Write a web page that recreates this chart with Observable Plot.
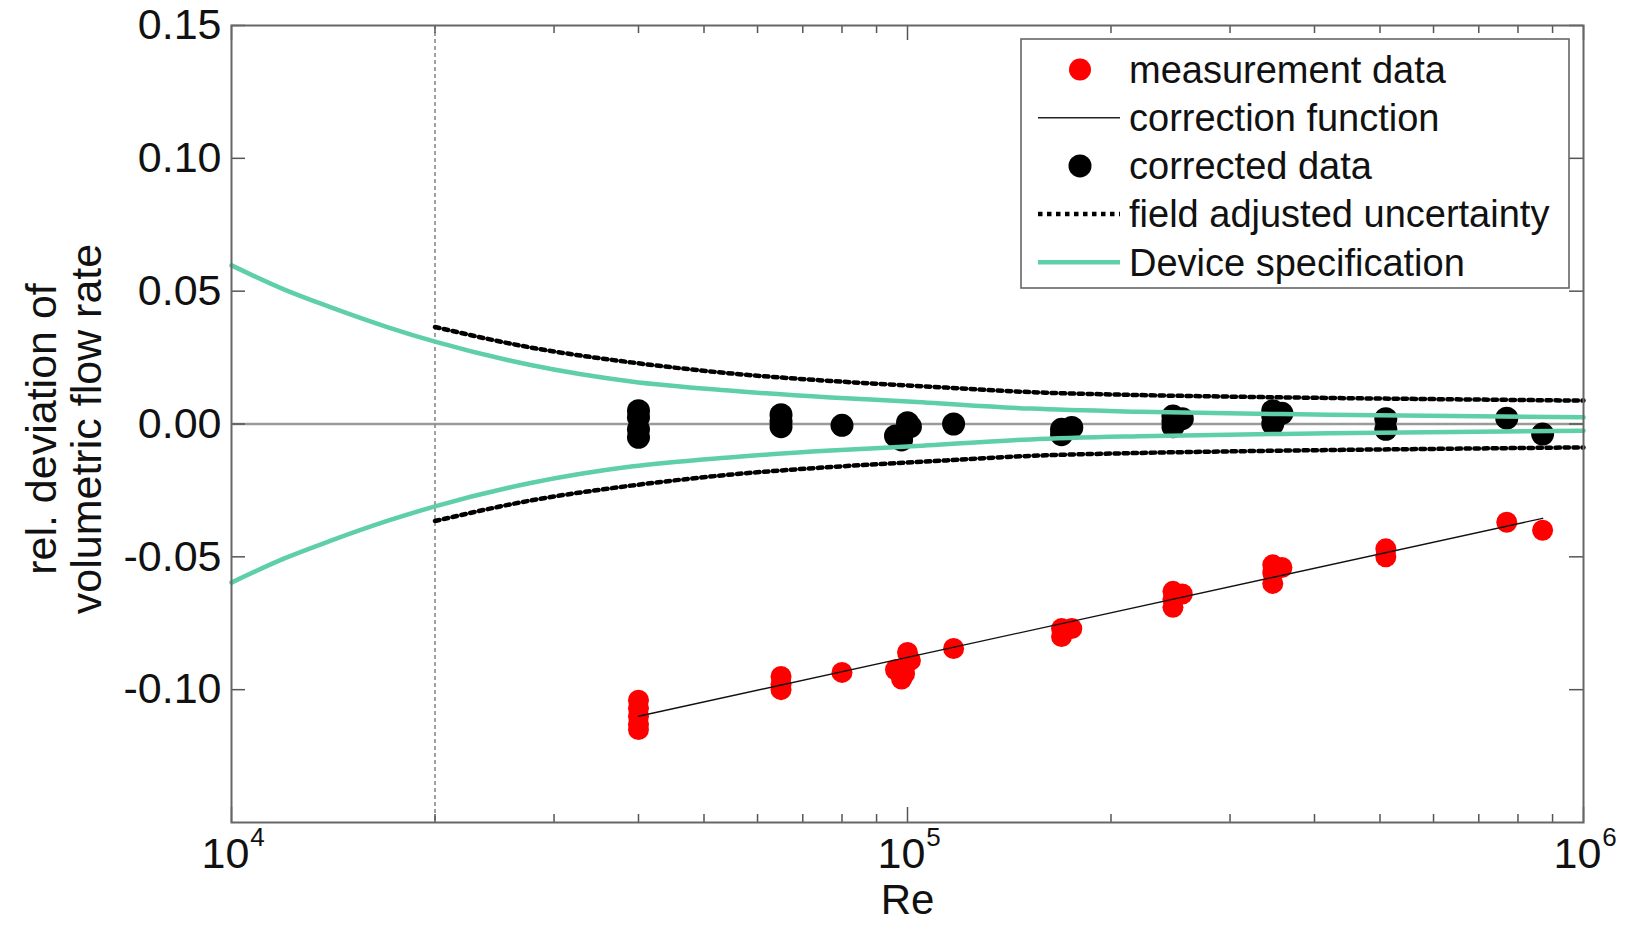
<!DOCTYPE html>
<html>
<head>
<meta charset="utf-8">
<script src="https://cdn.jsdelivr.net/npm/d3@7"></script>
<script src="https://cdn.jsdelivr.net/npm/@observablehq/plot@0.6"></script>
<style>
  html, body { margin: 0; padding: 0; background: #fff; }
  #chart { width: 1626px; height: 937px; }
</style>
</head>
<body>
<div id="chart"></div>
<script>
// ---------- data ----------
const measurementRe  = [4.0e4, 4.0e4, 4.0e4, 4.0e4, 4.0e4, 6.5e4, 6.5e4, 6.5e4, 8.0e4, 9.6e4, 9.8e4, 9.9e4, 1.0e5, 1.01e5, 1.17e5, 1.69e5, 1.69e5, 1.75e5, 2.47e5, 2.47e5, 2.47e5, 2.55e5, 3.47e5, 3.47e5, 3.47e5, 3.58e5, 5.1e5, 5.1e5, 7.7e5, 8.7e5];
const measurementDev = [-0.104, -0.107, -0.110, -0.113, -0.115, -0.095, -0.098, -0.100, -0.0935, -0.0925, -0.096, -0.094, -0.086, -0.089, -0.0845, -0.077, -0.080, -0.077, -0.063, -0.066, -0.069, -0.064, -0.053, -0.056, -0.060, -0.054, -0.047, -0.050, -0.037, -0.040];

const correctedRe  = [4.0e4, 4.0e4, 4.0e4, 4.0e4, 6.5e4, 6.5e4, 6.5e4, 8.0e4, 9.6e4, 9.8e4, 1.0e5, 1.01e5, 1.17e5, 1.69e5, 1.69e5, 1.75e5, 2.47e5, 2.47e5, 2.47e5, 2.55e5, 3.47e5, 3.47e5, 3.47e5, 3.58e5, 5.1e5, 5.1e5, 7.7e5, 8.7e5];
const correctedDev = [0.005, 0.0025, -0.002, -0.005, 0.0035, 0.001, -0.001, -0.0005, -0.0045, -0.006, 0.0005, -0.001, 0.0, -0.004, -0.002, -0.0013, 0.003, 0.001, -0.001, 0.002, 0.005, 0.003, 0.0, 0.004, 0.002, -0.002, 0.0022, -0.0038];

const correctionRe  = [4.0e4, 8.7e5];
const correctionDev = [-0.110, -0.0355];

const specRe       = [1e4, 1.2e4, 1.4e4, 1.7e4, 2e4, 2.77e4, 3.9e4, 5.5e4, 7.7e4, 1e5, 1.52e5, 2.2e5, 4.2e5, 1e6];
const specUpper    = [0.0597, 0.0505, 0.0440, 0.0365, 0.0310, 0.0222, 0.0160, 0.0125, 0.0100, 0.0085, 0.0058, 0.0046, 0.0035, 0.0025];
const specLower    = [-0.0597, -0.0505, -0.0440, -0.0365, -0.0310, -0.0222, -0.0160, -0.0125, -0.0100, -0.0085, -0.0058, -0.0046, -0.0035, -0.0025];

const fieldRe      = [2e4, 2.77e4, 3.9e4, 5.5e4, 7.7e4, 1.09e5, 1.52e5, 2.2e5, 3.2e5, 4.2e5, 6.4e5, 1e6];
const fieldUpper   = [0.0365, 0.0288, 0.0232, 0.0190, 0.0162, 0.0140, 0.0120, 0.0109, 0.0102, 0.0098, 0.0093, 0.0088];
const fieldLower   = [-0.0365, -0.0288, -0.0232, -0.0190, -0.0162, -0.0140, -0.0120, -0.0109, -0.0102, -0.0098, -0.0093, -0.0088];

const validityRe = [2e4];

const yTickValues  = [-0.10, -0.05, 0.00, 0.05, 0.10, 0.15];
const xMajorTicks  = [1e4, 1e5, 1e6];
const xMinorTicks  = [2e4, 3e4, 4e4, 5e4, 6e4, 7e4, 8e4, 9e4, 2e5, 3e5, 4e5, 5e5, 6e5, 7e5, 8e5, 9e5];

const legendLabels = ["measurement data", "correction function", "corrected data", "field adjusted uncertainty", "Device specification"];

// ---------- build tables ----------
const zip = (xs, ys) => xs.map((x, i) => ({x, y: ys[i]}));
const measurement = zip(measurementRe, measurementDev);
const corrected   = zip(correctedRe, correctedDev);
const correction  = zip(correctionRe, correctionDev);
const specU = zip(specRe, specUpper), specL = zip(specRe, specLower);
const fieldU = zip(fieldRe, fieldUpper), fieldL = zip(fieldRe, fieldLower);

// ---------- layout ----------
const W = 1626, H = 937, ML = 231, MR = 43, MT = 25, MB = 115;
const PW = W - ML - MR, PH = H - MT - MB;
const FONT = "'Liberation Sans', Arial, Helvetica, sans-serif";
const TEAL = "#5ecfa7";
const TICK = "#555";
const DASH = "4.5,4.5";

const plot = Plot.plot({
  width: W, height: H,
  marginLeft: ML, marginRight: MR, marginTop: MT, marginBottom: MB,
  style: {fontFamily: FONT, background: "#fff", color: "#111"},
  x: {type: "log", domain: [1e4, 1e6], axis: null},
  y: {domain: [-0.15, 0.15], axis: null},
  marks: [
    Plot.ruleY([0], {stroke: "#9a9a9a", strokeWidth: 2.5}),
    Plot.ruleX(validityRe, {x: d => d, stroke: "#8a8a8a", strokeWidth: 1.6, strokeDasharray: "4,3"}),
    Plot.dot(measurement, {x: "x", y: "y", r: 10.5, fill: "#ff0000", stroke: "none"}),
    Plot.line(correction, {x: "x", y: "y", stroke: "#111", strokeWidth: 1.4}),
    Plot.dot(corrected, {x: "x", y: "y", r: 11.5, fill: "#000", stroke: "none"}),
    Plot.line(specU, {x: "x", y: "y", stroke: TEAL, strokeWidth: 4.5, curve: "monotone-x"}),
    Plot.line(specL, {x: "x", y: "y", stroke: TEAL, strokeWidth: 4.5, curve: "monotone-x"}),
    Plot.line(fieldU, {x: "x", y: "y", stroke: "#000", strokeWidth: 4.5, strokeDasharray: DASH, curve: "monotone-x"}),
    Plot.line(fieldL, {x: "x", y: "y", stroke: "#000", strokeWidth: 4.5, strokeDasharray: DASH, curve: "monotone-x"}),
    // ticks (inward)
    Plot.ruleY(yTickValues, {y: d => d, insetRight: PW - 14, stroke: TICK, strokeWidth: 1.5}),
    Plot.ruleY(yTickValues, {y: d => d, insetLeft: PW - 14, stroke: TICK, strokeWidth: 1.5}),
    Plot.ruleX(xMinorTicks, {x: d => d, insetTop: PH - 8, stroke: TICK, strokeWidth: 1.5}),
    Plot.ruleX(xMinorTicks, {x: d => d, insetBottom: PH - 8, stroke: TICK, strokeWidth: 1.5}),
    Plot.ruleX(xMajorTicks, {x: d => d, insetTop: PH - 15, stroke: TICK, strokeWidth: 1.5}),
    Plot.ruleX(xMajorTicks, {x: d => d, insetBottom: PH - 15, stroke: TICK, strokeWidth: 1.5}),
    Plot.frame({stroke: "#666", strokeWidth: 2}),
    // y tick labels
    Plot.axisY({ticks: yTickValues, tickSize: 0, tickPadding: 10, tickFormat: d => d.toFixed(2), fontSize: 43, label: null}),
    // x tick labels 10^n
    Plot.text(xMajorTicks, {x: d => d, frameAnchor: "bottom", text: () => "10", dy: 45, dx: -6, fontSize: 43}),
    Plot.text(xMajorTicks, {x: d => d, frameAnchor: "bottom", text: d => String(Math.round(Math.log10(d))), dy: 23, dx: 26, fontSize: 26}),
    // axis titles
    Plot.text(["Re"], {frameAnchor: "bottom", text: d => d, dy: 91, fontSize: 42}),
    Plot.text(["rel. deviation of\nvolumetric flow rate"], {frameAnchor: "left", text: d => d, textAnchor: "middle", rotate: -90, dx: -167, dy: 5, fontSize: 43, lineHeight: 1.04})
  ]
});

document.getElementById("chart").appendChild(plot);

// ---------- legend (inside plot, upper right) ----------
const svg = d3.select(plot);
const lg = svg.append("g").attr("font-family", FONT).attr("text-anchor", "start");
const LX = 1021, LY = 39, LW = 548, LH = 249;
lg.append("rect").attr("x", LX).attr("y", LY).attr("width", LW).attr("height", LH)
  .attr("fill", "#fff").attr("stroke", "#666").attr("stroke-width", 1.6);
const rowY = i => 69.5 + i * 48.2;
const mx = 1080, l1 = 1038, l2 = 1120, tx = 1129;
lg.append("circle").attr("cx", mx).attr("cy", rowY(0)).attr("r", 11).attr("fill", "#ff0000");
lg.append("line").attr("x1", l1).attr("x2", l2).attr("y1", rowY(1)).attr("y2", rowY(1)).attr("stroke", "#222").attr("stroke-width", 1.4);
lg.append("circle").attr("cx", mx).attr("cy", rowY(2)).attr("r", 11.5).attr("fill", "#000");
lg.append("line").attr("x1", l1).attr("x2", l2).attr("y1", rowY(3)).attr("y2", rowY(3)).attr("stroke", "#000").attr("stroke-width", 4.5).attr("stroke-dasharray", DASH);
lg.append("line").attr("x1", l1).attr("x2", l2).attr("y1", rowY(4)).attr("y2", rowY(4)).attr("stroke", TEAL).attr("stroke-width", 4.5);
legendLabels.forEach((t, i) => {
  lg.append("text").attr("x", tx).attr("y", rowY(i)).attr("dy", "0.35em")
    .attr("text-anchor", "start").attr("font-size", 38).attr("fill", "#111").text(t);
});
</script>
</body>
</html>
